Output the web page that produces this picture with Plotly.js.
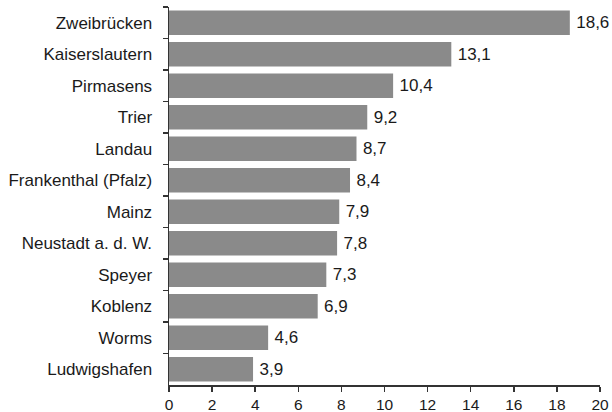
<!DOCTYPE html>
<html>
<head>
<meta charset="utf-8">
<script src="https://cdn.plot.ly/plotly-3.0.1.min.js"></script>
<style>html,body{margin:0;padding:0;background:#fff;}#chart{width:612px;height:412px;}</style>
</head>
<body>
<div id="chart"></div>
<script>
const cities = ["Zweibrücken","Kaiserslautern","Pirmasens","Trier","Landau","Frankenthal (Pfalz)","Mainz","Neustadt a. d. W.","Speyer","Koblenz","Worms","Ludwigshafen"];
const values = [18.6,13.1,10.4,9.2,8.7,8.4,7.9,7.8,7.3,6.9,4.6,3.9];
const xTicks = [0,2,4,6,8,10,12,14,16,18,20];

const trace = {
  type: 'bar',
  orientation: 'h',
  y: cities,
  x: values,
  marker: {color: '#8a8a8a', line: {width: 0}},
  width: 0.77,
  texttemplate: '\u2009%{x:.1f}',
  textposition: 'outside',
  cliponaxis: false,
  textfont: {family: 'Liberation Sans, Arial, sans-serif', size: 17, color: '#1a1a1a'},
  hoverinfo: 'none'
};

const layout = {
  width: 612, height: 412,
  margin: {l: 169, r: 12, t: 7, b: 27, pad: 0},
  paper_bgcolor: '#fff', plot_bgcolor: '#fff',
  separators: ',.',
  font: {family: 'Liberation Sans, Arial, sans-serif', color: '#1a1a1a'},
  showlegend: false,
  xaxis: {
    range: [0, 20], tickvals: xTicks, ticktext: xTicks.map(String),
    showgrid: false, zeroline: false, showline: true, linecolor: '#333', linewidth: 1.5,
    ticks: 'outside', ticklen: 5, tickwidth: 1.5, tickcolor: '#333',
    tickfont: {size: 15.5, color: '#1a1a1a'}, fixedrange: true
  },
  yaxis: {
    categoryorder: 'array', categoryarray: cities, autorange: 'reversed',
    showgrid: false, zeroline: false, showline: true, linecolor: '#333', linewidth: 1.5,
    ticks: 'outside', ticklen: 5, tickwidth: 1.5, tickcolor: '#333', tickson: 'boundaries',
    ticklabelstandoff: 12,
    tickfont: {size: 17, color: '#1a1a1a'}, fixedrange: true
  }
};

Plotly.newPlot('chart', [trace], layout, {staticPlot: true, displayModeBar: false});
</script>
</body>
</html>
